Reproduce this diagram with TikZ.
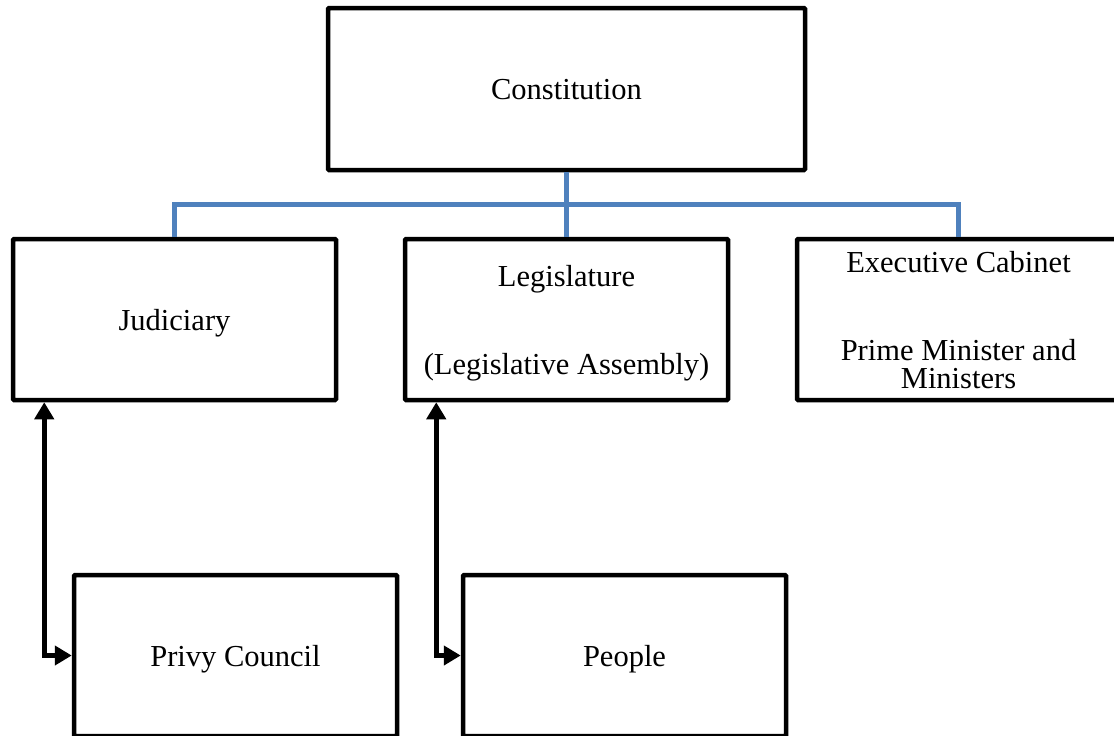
\documentclass[tikz,border=0pt]{standalone}
\usepackage{fontspec}
\setmainfont{Liberation Serif}
\usetikzlibrary{arrows.meta,positioning,calc}
\definecolor{linkblue}{RGB}{79,129,189}

\begin{document}
\begin{tikzpicture}[
  x=1pt, y=-1pt,
  font=\fontsize{30.5}{28}\selectfont,
  box/.style    = {draw, rounded corners=1pt, align=center, line width=4.5pt,
                   minimum width=323pt, minimum height=161pt, inner sep=0pt,
                   text depth=0pt},
  topbox/.style = {box, minimum width=477pt, minimum height=162pt},
  lnk/.style    = {line width=4.5pt, draw=linkblue},
  ar/.style     = {{Triangle[length=17pt,width=19pt]}-{Triangle[length=17pt,width=19pt]},
                   line width=4.5pt},
]
\useasboundingbox (0,0) rectangle (1114,736);

% =========================== top ===========================================
\node[topbox] (con) at (566.5,89) {Constitution};

% =========================== branches ======================================
\node[box]                       (jud) at (174.5,319.5) {Judiciary};
\node[box, right=64.5pt of jud]  (leg) {Legislature\\[60pt](Legislative Assembly)};
\node[box, right=64.5pt of leg]  (exe) {Executive Cabinet\\[60pt]Prime Minister and\\Ministers};

% =========================== bottom row ====================================
\node[box]                         (privy)  at (235.5,655.5) {Privy Council};
\node[box, right=61.5pt of privy]  (people) {People};

% =========================== tree links ====================================
\coordinate (bus) at ($(con.south)!0.5!(leg.north)$);
\draw[lnk] (con.south) -- (leg.north);
\draw[lnk] (jud.north) |- (bus) -| (exe.north);

% =========================== two-way arrows ================================
\draw[ar] ($(jud.south west)+(33.5,0)$) |- (privy.west);
\draw[ar] ($(leg.south west)+(33.5,0)$) |- (people.west);

\end{tikzpicture}
\end{document}
